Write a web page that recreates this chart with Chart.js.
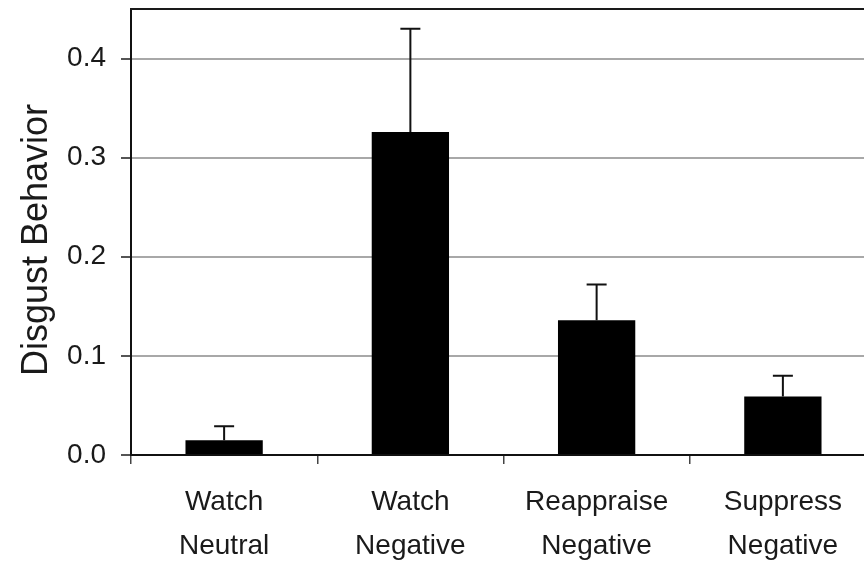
<!DOCTYPE html>
<html>
<head>
<meta charset="utf-8">
<script src="https://cdn.jsdelivr.net/npm/chart.js@4/dist/chart.umd.min.js"></script>
<style>
  html, body { margin: 0; padding: 0; background: #fff; }
  #wrap { width: 864px; height: 566px; overflow: hidden; position: relative; }
  canvas { display: block; }
</style>
</head>
<body>
<div id="wrap"><canvas id="c" width="880" height="566"></canvas></div>
<script>
// Condition labels (two lines each)
const categories = [
  ['Watch', 'Neutral'],
  ['Watch', 'Negative'],
  ['Reappraise', 'Negative'],
  ['Suppress', 'Negative']
];
// Mean disgust behavior per condition
const means = [0.015, 0.326, 0.136, 0.059];
// Upper end of each error bar (mean + SE)
const errorTops = [0.029, 0.430, 0.172, 0.080];
// Y axis ticks and range
const yTicks = [0.0, 0.1, 0.2, 0.3, 0.4];
const yMax = 0.45;
const yTitle = 'Disgust Behavior';

const FONT = '"Liberation Sans", Arial, sans-serif';

// Error bars with caps, drawn from the bar top to the upper value
const errorBarPlugin = {
  id: 'errorBars',
  afterDatasetsDraw(chart) {
    const ctx = chart.ctx;
    const yScale = chart.scales.y;
    const meta = chart.getDatasetMeta(0);
    ctx.save();
    ctx.strokeStyle = '#111';
    ctx.lineWidth = 2;
    meta.data.forEach((bar, i) => {
      const x = bar.x;
      const yTop = yScale.getPixelForValue(errorTops[i]);
      const yBase = yScale.getPixelForValue(means[i]);
      ctx.beginPath();
      ctx.moveTo(x, yBase);
      ctx.lineTo(x, yTop);
      ctx.moveTo(x - 10, yTop);
      ctx.lineTo(x + 10, yTop);
      ctx.stroke();
    });
    ctx.restore();
  }
};

// Top frame line of the plot area and the rotated y-axis title
const framePlugin = {
  id: 'frame',
  afterDraw(chart) {
    const { ctx, chartArea } = chart;
    ctx.save();
    ctx.strokeStyle = '#1a1a1a';
    ctx.lineWidth = 2;
    ctx.beginPath();
    ctx.moveTo(chartArea.left - 1, chartArea.top);
    ctx.lineTo(chartArea.right, chartArea.top);
    ctx.stroke();

    ctx.translate(37, 240);
    ctx.rotate(-Math.PI / 2);
    ctx.fillStyle = '#1a1a1a';
    ctx.font = '36px ' + FONT;
    ctx.textAlign = 'center';
    ctx.textBaseline = 'middle';
    ctx.fillText(yTitle, 0, 0);
    ctx.restore();
  }
};

new Chart(document.getElementById('c'), {
  type: 'bar',
  data: {
    labels: categories,
    datasets: [{
      data: means,
      backgroundColor: '#000',
      borderWidth: 0,
      barPercentage: 0.415,
      categoryPercentage: 1.0
    }]
  },
  options: {
    responsive: false,
    animation: false,
    events: [],
    layout: { padding: { left: 12, top: 9, right: 4, bottom: 0 } },
    plugins: {
      legend: { display: false },
      tooltip: { enabled: false }
    },
    scales: {
      x: {
        type: 'category',
        offset: true,
        grid: {
          offset: true,
          drawOnChartArea: false,
          drawTicks: true,
          tickLength: 9,
          tickColor: '#444',
          lineWidth: 1.5
        },
        border: { display: true, color: '#111', width: 2 },
        ticks: {
          color: '#1a1a1a',
          padding: 16,
          maxRotation: 0,
          autoSkip: false,
          font: { family: FONT, size: 28, lineHeight: 1.58 }
        },
        afterFit(scale) { scale.height = 111; }
      },
      y: {
        min: 0,
        max: yMax,
        afterBuildTicks(scale) {
          scale.ticks = yTicks.map(v => ({ value: v }));
        },
        grid: {
          color: ctx => (ctx.tick && ctx.tick.value === 0) ? 'rgba(0,0,0,0)' : '#a8a8a8',
          lineWidth: 2,
          drawTicks: true,
          tickLength: 10,
          tickColor: '#555'
        },
        border: { display: true, color: '#111', width: 2 },
        ticks: {
          color: '#1a1a1a',
          padding: 15,
          font: { family: FONT, size: 28 },
          callback: v => Number(v).toFixed(1)
        },
        afterFit(scale) {
          scale.width = 119;
          scale.paddingTop = 0;
          scale.paddingBottom = 0;
        }
      }
    }
  },
  plugins: [errorBarPlugin, framePlugin]
});
</script>
</body>
</html>
